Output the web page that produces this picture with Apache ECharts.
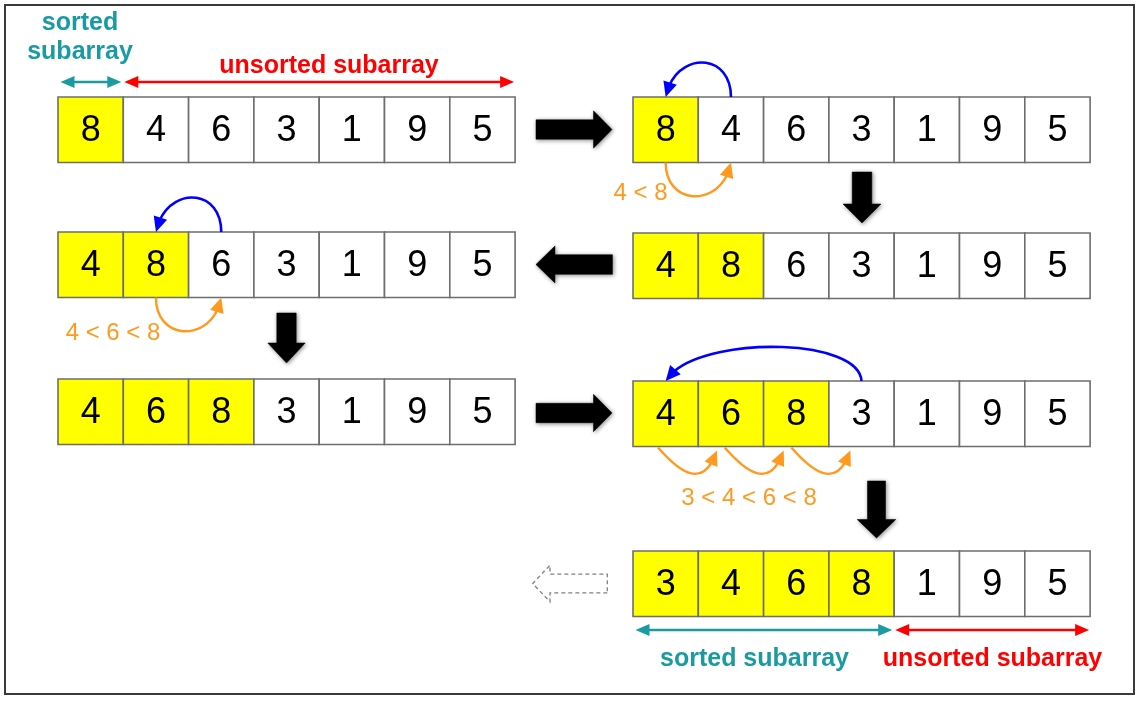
<!DOCTYPE html>
<html><head><meta charset="utf-8">
<script src="https://cdn.jsdelivr.net/npm/echarts@6/dist/echarts.min.js"></script>
<style>html,body{margin:0;padding:0;background:#fff}#main{width:1140px;height:701px}</style>
</head><body><div id="main"></div>
<script>
// ---------------- data ----------------
const step1 = [8, 4, 6, 3, 1, 9, 5];
const step2 = [8, 4, 6, 3, 1, 9, 5];
const step3 = [4, 8, 6, 3, 1, 9, 5];
const step4 = [4, 8, 6, 3, 1, 9, 5];
const step5 = [4, 6, 8, 3, 1, 9, 5];
const step6 = [4, 6, 8, 3, 1, 9, 5];
const step7 = [3, 4, 6, 8, 1, 9, 5];
const steps = [step1, step2, step3, step4, step5, step6, step7];
const sortedCounts = [1, 1, 2, 2, 3, 3, 4];
// swaps: [step, fromCell, toCell]
const swapMoves = [[1, 1, 0], [3, 2, 1], [5, 3, 0]];
// comparisons: [step, fromCell, toCell]
const compareMoves = [[1, 0, 1], [3, 1, 2], [5, 0, 1], [5, 1, 2], [5, 2, 3]];
const compareLabels = ['4 < 8', '4 < 6 < 8', '3 < 4 < 6 < 8'];
const sortedLabel = 'sorted subarray';
const unsortedLabel = 'unsorted subarray';

// ---------------- layout ----------------
const CW = 65.3, CH = 65.5;
const rowX = [58, 633, 633, 58, 58, 633, 633];
const rowY = [97, 97, 233, 232, 379, 381, 551];
const compareLabelPos = [[640.5, 193], [113, 333], [749, 498]];
const blockArrows = [
  {cx: 574, cy: 129.5, dir: 'right', L: 76, H: 18.5, s: 9.7, h: 18.7},
  {cx: 862, cy: 197.5, dir: 'down', L: 51, H: 19, s: 9.8, h: 19},
  {cx: 574.2, cy: 264.5, dir: 'left', L: 76.5, H: 19, s: 9.8, h: 18.5},
  {cx: 286.5, cy: 338, dir: 'down', L: 50, H: 20, s: 9.7, h: 18.7},
  {cx: 574, cy: 413, dir: 'right', L: 76, H: 18.5, s: 9.7, h: 18.7},
  {cx: 876.5, cy: 509.5, dir: 'down', L: 57, H: 18.5, s: 9, h: 19.3},
  {cx: 570, cy: 583.5, dir: 'left', L: 74.6, H: 17.3, s: 9.3, h: 18.3, dashed: true}
];

const TEAL = '#1a9aa1', RED = '#ff0000', BLUE = '#0000ff', ORANGE = '#ff9a1f', YELLOW = '#ffff00';
const FONT = '"Liberation Sans", Arial, Helvetica, sans-serif';

// ---------------- helpers ----------------
function lerp(a, b, t) { return [a[0] + (b[0] - a[0]) * t, a[1] + (b[1] - a[1]) * t]; }
function bez(p0, p1, p2, p3, t) {
  const a = lerp(p0, p1, t), b = lerp(p1, p2, t), c = lerp(p2, p3, t);
  const d = lerp(a, b, t), e = lerp(b, c, t);
  return {pt: lerp(d, e, t), a: a, d: d};
}
function curveArrow(P, color, lw, headLen, headHalf) {
  const [p0, p1, p2, p3] = P;
  let t = 1, r;
  while (t > 0) {
    r = bez(p0, p1, p2, p3, t);
    const dx = p3[0] - r.pt[0], dy = p3[1] - r.pt[1];
    if (Math.sqrt(dx * dx + dy * dy) >= headLen * 0.8) break;
    t -= 0.004;
  }
  const f = r.pt;
  let ux = p3[0] - f[0], uy = p3[1] - f[1];
  const len = Math.sqrt(ux * ux + uy * uy) || 1; ux /= len; uy /= len;
  const bx = p3[0] - ux * headLen, by = p3[1] - uy * headLen;
  const nx = -uy, ny = ux;
  return [
    {type: 'bezierCurve', shape: {x1: p0[0], y1: p0[1], cpx1: r.a[0], cpy1: r.a[1], cpx2: r.d[0], cpy2: r.d[1], x2: f[0], y2: f[1]},
      style: {stroke: color, lineWidth: lw, fill: null}},
    {type: 'polygon', shape: {points: [[p3[0], p3[1]], [bx + nx * headHalf, by + ny * headHalf], [bx - nx * headHalf, by - ny * headHalf]]},
      style: {fill: color, stroke: null}}
  ];
}
function doubleArrow(x1, x2, y, color) {
  const hl = 14, hh = 6;
  return [
    {type: 'line', shape: {x1: x1 + hl - 2, y1: y, x2: x2 - hl + 2, y2: y}, style: {stroke: color, lineWidth: 2.5}},
    {type: 'polygon', shape: {points: [[x1, y], [x1 + hl, y - hh], [x1 + hl, y + hh]]}, style: {fill: color}},
    {type: 'polygon', shape: {points: [[x2, y], [x2 - hl, y - hh], [x2 - hl, y + hh]]}, style: {fill: color}}
  ];
}
function txt(x, y, text, color, font) {
  return {type: 'text', style: {text: text, x: x, y: y, fill: color, font: font, align: 'center', verticalAlign: 'middle'}};
}

// ---------------- series data ----------------
const cellData = [];
steps.forEach((vals, s) => vals.forEach((v, i) => cellData.push([rowX[s] + (i + 0.5) * CW, rowY[s] + CH / 2, v, i < sortedCounts[s] ? 1 : 0, s, i])));

const option = {
  animation: false,
  backgroundColor: '#ffffff',
  grid: {left: 0, right: 0, top: 0, bottom: 0},
  xAxis: {type: 'value', min: 0, max: 1140, show: false},
  yAxis: {type: 'value', min: 0, max: 701, inverse: true, show: false},
  graphic: [{type: 'rect', shape: {x: 5, y: 5, width: 1129, height: 689}, style: {fill: null, stroke: '#3a3a3a', lineWidth: 2}, silent: true}],
  series: [
    { // cells
      type: 'custom', silent: true, data: cellData, encode: {x: 0, y: 1},
      renderItem: function (params, api) {
        const s = api.value(4), i = api.value(5);
        const tl = api.coord([rowX[s] + i * CW, rowY[s]]);
        const br = api.coord([rowX[s] + (i + 1) * CW, rowY[s] + CH]);
        const c = api.coord([api.value(0), api.value(1)]);
        return {type: 'group', children: [
          {type: 'rect', shape: {x: tl[0], y: tl[1], width: br[0] - tl[0], height: br[1] - tl[1]},
            style: {fill: api.value(3) ? YELLOW : '#ffffff', stroke: '#6e6e6e', lineWidth: 1.6}},
          txt(c[0], c[1] + 1, String(api.value(2)), '#000000', '36px ' + FONT)
        ]};
      }
    },
    { // block flow arrows
      type: 'custom', silent: true, data: blockArrows.map(a => [a.cx, a.cy]), encode: {x: 0, y: 1},
      renderItem: function (params, api) {
        const a = blockArrows[params.dataIndex];
        const c = api.coord([api.value(0), api.value(1)]);
        const d = {right: [1, 0], left: [-1, 0], down: [0, 1], up: [0, -1]}[a.dir];
        const n = [-d[1], d[0]];
        const loc = [[-a.L / 2, -a.s], [a.L / 2 - a.H, -a.s], [a.L / 2 - a.H, -a.h], [a.L / 2, 0], [a.L / 2 - a.H, a.h], [a.L / 2 - a.H, a.s], [-a.L / 2, a.s]];
        const pts = loc.map(p => [c[0] + p[0] * d[0] + p[1] * n[0], c[1] + p[0] * d[1] + p[1] * n[1]]);
        const style = a.dashed
          ? {fill: null, stroke: '#808080', lineWidth: 1.3, lineDash: [4, 3]}
          : {fill: '#000000', stroke: '#000000', lineWidth: 0.5, shadowBlur: 4, shadowColor: 'rgba(0,0,0,0.45)', shadowOffsetX: 1, shadowOffsetY: 1};
        return {type: 'polygon', shape: {points: pts}, style: style};
      }
    },
    { // swap arcs (blue)
      type: 'custom', silent: true, data: swapMoves.map(m => [rowX[m[0]] + (m[1] + 0.5) * CW, rowY[m[0]], m[0], m[1], m[2]]), encode: {x: 0, y: 1},
      renderItem: function (params, api) {
        const s = api.value(2), from = api.value(3), to = api.value(4);
        const y = rowY[s], sx = rowX[s] + (from + 0.5) * CW, dx = rowX[s] + (to + 0.5) * CW;
        const far = (from - to) > 1;
        const h = far ? 45.5 : 46;
        const P = [[sx, y], [sx - (far ? 3 : 0), y - h], [dx + (far ? 26 : 9), y - h], [dx, y]].map(p => api.coord(p));
        return {type: 'group', children: curveArrow(P, BLUE, 2.6, 15, 7)};
      }
    },
    { // comparison arcs (orange)
      type: 'custom', silent: true, data: compareMoves.map(m => [rowX[m[0]] + (m[1] + 0.5) * CW, rowY[m[0]] + CH, m[0], m[1], m[2]]), encode: {x: 0, y: 1},
      renderItem: function (params, api) {
        const s = api.value(2), from = api.value(3);
        const y = rowY[s] + CH;
        let P;
        if (s === 5) {
          const x0 = rowX[s] + from * CW + 25 + from * 1.4;
          P = [[x0, y + 1], [x0 + 27, y + 32], [x0 + 47, y + 39], [x0 + 59, y + 4]];
        } else {
          const sx = rowX[s] + (from + 0.5) * CW, ex = rowX[s] + (from + 1.5) * CW;
          P = [[sx, y], [sx, y + 45], [ex - 8, y + 45], [ex, y]];
        }
        P = P.map(p => api.coord(p));
        return {type: 'group', children: curveArrow(P, ORANGE, 2.4, 15, 7)};
      }
    },
    { // comparison labels
      type: 'custom', silent: true, data: compareLabelPos.map((p, i) => [p[0], p[1], i]), encode: {x: 0, y: 1},
      renderItem: function (params, api) {
        const c = api.coord([api.value(0), api.value(1)]);
        return txt(c[0], c[1], compareLabels[api.value(2)], ORANGE, '24px ' + FONT);
      }
    },
    { // subarray spans
      type: 'custom', silent: true, data: [[0, 0], [6, 1]], encode: {x: 0, y: 1},
      renderItem: function (params, api) {
        const s = api.value(0), bottom = api.value(1) === 1;
        const x0 = rowX[s], xs = rowX[s] + sortedCounts[s] * CW, xe = rowX[s] + steps[s].length * CW;
        const y = bottom ? rowY[s] + CH + 13.5 : rowY[s] - 15;
        const A = api.coord([x0 + 2.5, y]), B = api.coord([xs - 2, y]), C = api.coord([xs + 1, y]), D = api.coord([xe - 1, y]);
        const kids = doubleArrow(A[0], B[0], A[1], TEAL).concat(doubleArrow(C[0], D[0], C[1], RED));
        const bf = 'bold 25px ' + FONT;
        if (bottom) {
          const ly = api.coord([0, y + 29])[1];
          kids.push(txt(api.coord([754.5, 0])[0], ly, sortedLabel, TEAL, bf));
          kids.push(txt(api.coord([992.5, 0])[0], ly, unsortedLabel, RED, bf));
        } else {
          const parts = sortedLabel.split(' ');
          kids.push(txt(api.coord([80, 0])[0], api.coord([0, 23])[1], parts[0], TEAL, bf));
          kids.push(txt(api.coord([80, 0])[0], api.coord([0, 52])[1], parts[1], TEAL, bf));
          kids.push(txt(api.coord([329, 0])[0], api.coord([0, 66])[1], unsortedLabel, RED, bf));
        }
        return {type: 'group', children: kids};
      }
    }
  ]
};
const chart = echarts.init(document.getElementById('main'));
chart.setOption(option);
</script>
</body></html>
